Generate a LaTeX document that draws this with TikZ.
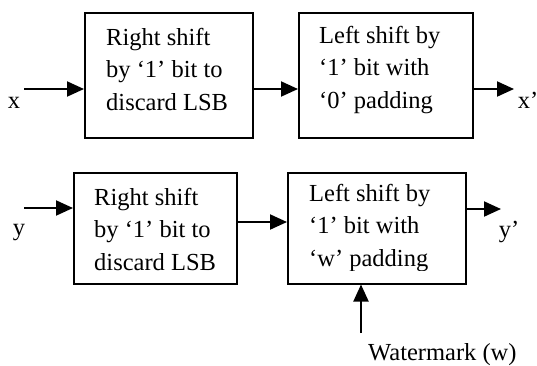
\documentclass[tikz,border=0pt]{standalone}
\usepackage{fontspec}
\setmainfont{Liberation Serif}
\usetikzlibrary{arrows.meta}
\begin{document}
\begin{tikzpicture}[x=1pt,y=-1pt,
  blockbox/.style={draw,line width=1.5pt,inner sep=0pt},
  lbl/.style={font=\fontsize{24.5}{32.5}\selectfont,inner sep=0pt,align=left},
  conn/.style={line width=2pt,-{Triangle[length=17pt,width=15pt]}}]
\useasboundingbox (0,0) rectangle (537,365);
% row 1
\node[blockbox,minimum width=168pt,minimum height=125pt,anchor=north west] (b1) at (84,12) {};
\node[blockbox,minimum width=174pt,minimum height=125pt,anchor=north west] (b2) at (298,12) {};
\node[lbl,anchor=base west] (t1) at (106,110) {Right shift\\by ‘1’ bit to\\discard LSB};
\node[lbl,anchor=base west] (t2) at (319,108) {Left shift by\\‘1’ bit with\\‘0’ padding};
\coordinate (xin) at (24,89);
\coordinate (xout) at (514,89);
\node[lbl,anchor=base] (xl) at (14,108) {x};
\node[lbl,anchor=base] (xpl) at (528,108) {x’};
\draw[conn] (xin) -- (xin -| b1.west);
\draw[conn] (xin -| b1.east) -- (xin -| b2.west);
\draw[conn] (xin -| b2.east) -- (xout);
% row 2
\node[blockbox,minimum width=163pt,minimum height=111pt,anchor=north west] (b3) at (73,172) {};
\node[blockbox,minimum width=178pt,minimum height=111pt,anchor=north west] (b4) at (287,172) {};
\node[lbl,anchor=base west] (t3) at (94,270) {Right shift\\by ‘1’ bit to\\discard LSB};
\begin{scope}
\clip (287,172) rectangle (465,270);
\node[lbl,anchor=base west] (t4) at (309,266) {Left shift by\\‘1’ bit with\\‘w’ padding};
\end{scope}
\coordinate (yin) at (24,208);
\coordinate (ymid) at (0,222);
\coordinate (yout) at (501,209);
\node[lbl,anchor=base] (yl) at (19,235) {y};
\node[lbl,anchor=base] (ypl) at (509,237) {y’};
\draw[conn] (yin) -- (yin -| b3.west);
\draw[conn] (ymid -| b3.east) -- (ymid -| b4.west);
\draw[conn] (yout -| b4.east) -- (yout);
\coordinate (wm) at (361,333);
\node[lbl,anchor=base west] (wl) at (368,360) {Watermark (w)};
\draw[conn] (wm) -- (wm |- b4.south);
\end{tikzpicture}
\end{document}
